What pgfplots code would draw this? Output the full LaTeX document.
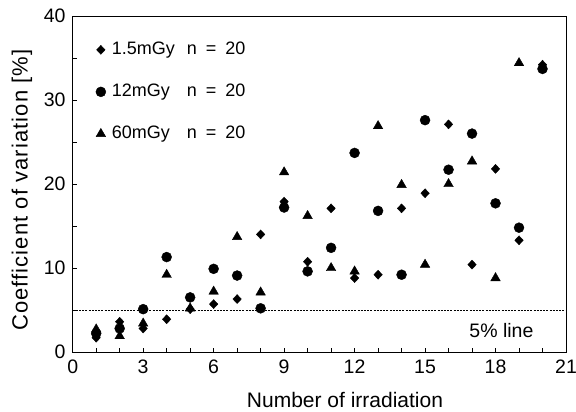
\documentclass[border=0pt]{standalone}
\usepackage{pgfplots}
\pgfplotsset{compat=1.18}
\usepackage{fontspec}
\setmainfont{Liberation Sans}
\begin{document}
\fontsize{18}{21}\selectfont
\begin{tikzpicture}
\path[use as bounding box] (0,0) rectangle (576pt,412pt);
\begin{axis}[
  at={(72.7pt,60pt)}, anchor=south west,
  scale only axis, width=493.3pt, height=336pt,
  xmin=0, xmax=21, ymin=0, ymax=40,
  xtick={0,3,...,21}, minor xtick={1,...,20},
  ytick={0,10,...,40}, minor ytick={5,15,25,35},
  tick align=inside, tick pos=left,
  major tick length=4pt, minor tick length=4pt,
  tick style={black, line width=0.6pt},
  axis line style={line width=0.8pt},
  /pgf/number format/assume math mode=true,
  ticklabel style={font=\fontsize{19.5}{22}\selectfont},
  xticklabel style={yshift=-2pt},
  yticklabel style={xshift=-1pt},
  xlabel style={font=\fontsize{21}{24}\selectfont, at={(axis description cs:0.552,-0.143)}, anchor=center},
  ylabel style={font=\fontsize{22}{25}\selectfont\addfontfeature{LetterSpace=5}, at={(axis description cs:-0.103,0.482)}, anchor=center},
  xlabel={Number of irradiation},
  ylabel={Coefficient of variation [\%]},
  legend style={draw=none, fill=none, at={(axis cs:0.85,37.6)}, anchor=north west,
    nodes={text height=13pt, text depth=4pt, inner sep=3pt}, row sep=19pt,
    font=\fontsize{18}{21}\selectfont, cells={anchor=west}},
  legend image code/.code={\draw[#1] plot coordinates {(0pt,0pt)};},
]
\addplot[only marks, mark=diamond*, mark size=4.5pt, mark options={xscale=1.25, fill=black, draw=black}] coordinates {
(1,1.7) (2,3.6) (3,2.8) (4,3.9) (5,5.1) (6,5.7) (7,6.3) (8,14.0) (9,17.9) (10,10.75)
(11,17.1) (12,8.8) (13,9.2) (14,17.1) (15,18.9) (16,27.1) (17,10.4) (18,21.8) (19,13.3) (20,34.2)};
\addlegendentry{\hspace{3pt}\makebox[75pt][l]{1.5mGy}n\enspace=\enspace20}
\addplot[only marks, mark=*, mark size=5pt, mark options={fill=black, draw=black}] coordinates {
(1,2.2) (2,2.8) (3,5.1) (4,11.3) (5,6.5) (6,9.9) (7,9.1) (8,5.2) (9,17.2) (10,9.6)
(11,12.4) (12,23.7) (13,16.8) (14,9.2) (15,27.6) (16,21.7) (17,26.0) (18,17.7) (19,14.8) (20,33.7)};
\addlegendentry{\hspace{3pt}\makebox[75pt][l]{12mGy}n\enspace=\enspace20}
\addplot[only marks, mark=triangle*, mark size=5.5pt, mark options={fill=black, draw=black}] coordinates {
(1,2.7) (2,1.9) (3,3.4) (4,9.2) (5,5.2) (6,7.2) (7,13.7) (8,7.1) (9,21.4) (10,16.2)
(11,10.0) (12,9.6) (13,26.9) (14,19.9) (15,10.4) (16,20.0) (17,22.7) (18,8.8) (19,34.4)};
\addlegendentry{\hspace{3pt}\makebox[75pt][l]{60mGy}n\enspace=\enspace20}
\addplot[black, line width=0.6pt, dash pattern=on 2pt off 1.2pt, forget plot] coordinates {(0,5) (21,5)};
\node[anchor=center, font=\fontsize{19.5}{22}\selectfont] at (axis cs:18.25,2.5) {5\% line};
\end{axis}
\end{tikzpicture}
\end{document}
